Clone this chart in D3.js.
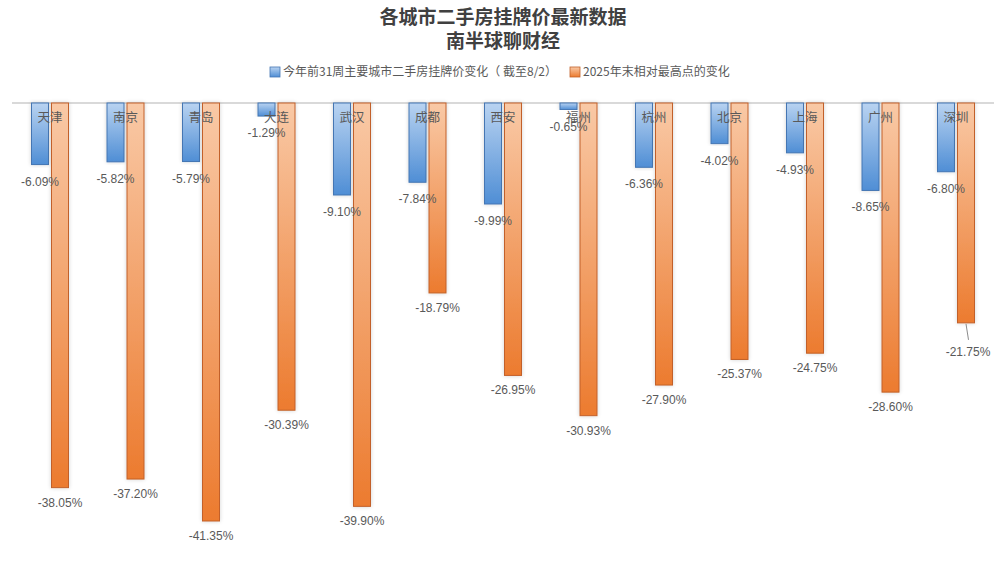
<!DOCTYPE html>
<html>
<head>
<meta charset="utf-8">
<script src="https://cdn.jsdelivr.net/npm/d3@7"></script>
<style>
  body { margin: 0; background: #fff; }
  #svgcontainer { width: 1008px; height: 567px; }
</style>
</head>
<body>
<div id="svgcontainer"></div>
<script>
var cities = ["天津","南京","青岛","大连","武汉","成都","西安","福州","杭州","北京","上海","广州","深圳"];
var weekChange = [-6.09,-5.82,-5.79,-1.29,-9.10,-7.84,-9.99,-0.65,-6.36,-4.02,-4.93,-8.65,-6.80];
var peakChange = [-38.05,-37.20,-41.35,-30.39,-39.90,-18.79,-26.95,-30.93,-27.90,-25.37,-24.75,-28.60,-21.75];
var seriesNames = ["今年前31周主要城市二手房挂牌价变化（ 截至8/2）","2025年末相对最高点的变化"];
var titleLines = ["各城市二手房挂牌价最新数据","南半球聊财经"];

var width = 1008, height = 567;
var base = 103;

var svg = d3.select("#svgcontainer")
    .append("svg")
    .attr("width", width)
    .attr("height", height);

var defs = svg.append("defs");

// gradients, light at axis -> strong at bar end
function grad(id, c1, c2){
  var g = defs.append("linearGradient")
    .attr("id", id)
    .attr("x1", 0).attr("y1", 0)
    .attr("x2", 0).attr("y2", 1);
  g.append("stop").attr("offset", "0%").attr("stop-color", c1);
  g.append("stop").attr("offset", "100%").attr("stop-color", c2);
}
grad("gBlue", "#b9d3f1", "#4f8ed5");
grad("gOrange", "#f9c9a6", "#ec7b2f");

var f = defs.append("filter").attr("id", "glow")
  .attr("x", "-40%").attr("y", "-5%").attr("width", "180%").attr("height", "110%");
f.append("feGaussianBlur").attr("in", "SourceAlpha").attr("stdDeviation", 2).attr("result", "b");
f.append("feComponentTransfer").attr("in", "b").attr("result", "s")
  .append("feFuncA").attr("type", "linear").attr("slope", 0.18);
var fm = f.append("feMerge");
fm.append("feMergeNode").attr("in", "s");
fm.append("feMergeNode").attr("in", "SourceGraphic");

var colors = [{fill: "url(#gBlue)", stroke: "#4476b3", key: "#5b9bd5"},
              {fill: "url(#gOrange)", stroke: "#c2612a", key: "#ed7d31"}];

var x0 = d3.scaleBand().domain(cities).range([12.25, 993.75]);
var x1 = d3.scaleBand().domain([0, 1]).range([-18.5, 18.5]).paddingInner(0.15);
var y = d3.scaleLinear().domain([0, -41.35]).range([base, 521]);

// title
svg.selectAll(".title")
  .data(titleLines)
  .enter().append("text")
  .attr("x", 503)
  .attr("y", function(d, i){ return 24 + i * 24; })
  .attr("text-anchor", "middle")
  .style("font-family", "'Noto Sans CJK SC', sans-serif")
  .style("font-weight", "bold")
  .style("font-size", "19px")
  .style("fill", "#404040")
  .text(function(d){ return d; });

// legend
var legX = [270, 570];
seriesNames.forEach(function(name, i){
  svg.append("rect")
    .attr("x", legX[i]).attr("y", 67)
    .attr("width", 10).attr("height", 10)
    .style("fill", colors[i].fill)
    .style("stroke", colors[i].stroke)
    .style("stroke-width", 0.8);
  svg.append("text")
    .attr("x", legX[i] + 13).attr("y", 76)
    .style("font-family", "'Noto Sans CJK SC', sans-serif")
    .style("font-size", "12px")
    .style("fill", "#595959")
    .text(name);
});

// axis line
svg.append("line")
  .attr("x1", 12).attr("x2", 994)
  .attr("y1", base).attr("y2", base)
  .style("stroke", "#d9d9d9")
  .style("stroke-width", 2);

var rows = cities.map(function(c, i){ return {city: c, vals: [weekChange[i], peakChange[i]]}; });

var groups = svg.selectAll(".grp")
  .data(rows)
  .enter().append("g")
  .attr("transform", function(d){ return "translate(" + (x0(d.city) + x0.bandwidth() / 2) + ",0)"; });

groups.selectAll("rect")
  .data(function(d){ return d.vals.map(function(v, i){ return {v: v, s: i}; }); })
  .enter().append("rect")
  .attr("x", function(d){ return x1(d.s); })
  .attr("y", base)
  .attr("width", x1.bandwidth())
  .attr("height", function(d){ return y(d.v) - base; })
  .attr("filter", "url(#glow)")
  .style("fill", function(d){ return colors[d.s].fill; })
  .style("stroke", function(d){ return colors[d.s].stroke; })
  .style("stroke-width", 1);

// category labels
groups.append("text")
  .attr("x", 0).attr("y", 122)
  .attr("text-anchor", "middle")
  .style("font-family", "'Noto Sans CJK SC', sans-serif")
  .style("font-size", "12.5px")
  .style("fill", "#595959")
  .text(function(d){ return d.city; });

// value labels
groups.selectAll(".val")
  .data(function(d){ return d.vals.map(function(v, i){ return {v: v, s: i, city: d.city}; }); })
  .enter().append("text")
  .attr("x", function(d){ return x1(d.s) + x1.bandwidth() / 2 + (d.city == "深圳" && d.s == 1 ? 2 : 0); })
  .attr("y", function(d){
    var off = d.s == 0 ? 21 : 19;
    if (d.city == "深圳" && d.s == 1) off = 33;
    return y(d.v) + off;
  })
  .attr("text-anchor", "middle")
  .style("font-family", "'Liberation Sans', Arial, sans-serif")
  .style("font-size", "12px")
  .style("fill", "#595959")
  .text(function(d){ return d.v.toFixed(2) + "%"; });

// leader line for 深圳
var sz = cities.length - 1;
var lx = x0(cities[sz]) + x0.bandwidth() / 2 + x1(1) + x1.bandwidth() / 2;
svg.append("line")
  .attr("x1", lx).attr("y1", y(peakChange[sz]) + 1)
  .attr("x2", lx + 2.5).attr("y2", y(peakChange[sz]) + 17)
  .style("stroke", "#8c8c8c")
  .style("stroke-width", 1);
</script>
</body>
</html>
